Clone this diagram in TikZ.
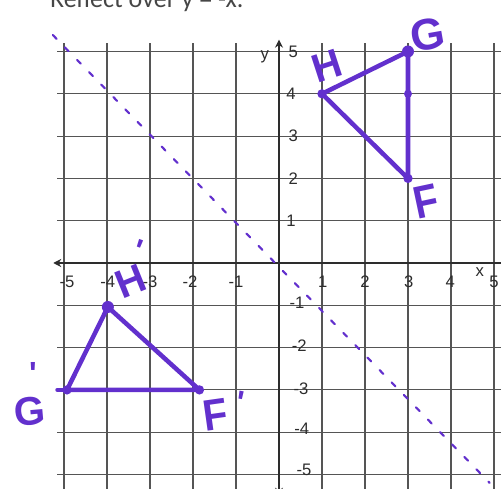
\documentclass[tikz,border=0pt]{standalone}
\usepackage{fontspec}
\setmainfont{Liberation Sans}
\newfontfamily\titlefont{Carlito}
\usetikzlibrary{arrows.meta}
\definecolor{pen}{RGB}{98,48,205}
\definecolor{gridc}{RGB}{85,85,85}
\definecolor{inkc}{RGB}{45,45,45}
\definecolor{titlec}{RGB}{70,70,70}
\begin{document}
\begin{tikzpicture}[x=32.25pt,y=31.725pt,
  gridline/.style={draw=gridc,line width=0.8pt},
  axisline/.style={draw=inkc,line width=1.6pt},
  tri/.style={draw=pen,line width=3.4pt,line join=round,line cap=round},
  mirror/.style={draw=pen,line width=1.6pt,line cap=round,dash pattern=on 4pt off 9pt},
  vdot/.style={circle,fill=pen,inner sep=0pt,minimum size=7pt},
  tick/.style={text=inkc,font=\fontsize{12.5}{13}\selectfont,inner sep=0pt},
  hand/.style={text=pen,font=\bfseries\fontsize{30}{30}\selectfont,inner sep=0pt},
  primemark/.style={text=pen,font=\bfseries\fontsize{24}{24}\selectfont,inner sep=0pt}]
\useasboundingbox (-6.4884,-5.3428) rectangle (5.1628,6.2175);
% title (cut at top)
\node[anchor=base west,inner sep=0pt,text=titlec,font=\titlefont\fontsize{19.5}{20}\selectfont] (title) at (-5.33,6.03) {Reflect over y = -x.};
% grid
\foreach \i in {-5,...,-1,1,2,...,5} \draw[gridline] (\i,-5.55) -- (\i,5.2);
\foreach \j in {-5,...,-1,1,2,...,5} \draw[gridline] (-5.16,\j) -- (5.4,\j);
% axes
\draw[axisline,{Stealth[length=6pt,width=6pt]}-{Stealth[length=6pt,width=6pt]}] (0,-5.5) -- (0,5.28);
\draw[axisline,{Stealth[length=6pt,width=6pt]}-] (-5.25,0) -- (5.4,0);
% tick labels
\node[tick] (xm5) at (-4.93,-0.45) {-5};
\node[tick] (xm4) at (-3.98,-0.45) {-4};
\node[tick] (xm3) at (-3.0,-0.45) {-3};
\node[tick] (xm2) at (-2.07,-0.45) {-2};
\node[tick] (xm1) at (-1.0,-0.45) {-1};
\node[tick] (x1) at (1.02,-0.45) {1};
\node[tick] (x2) at (2.0,-0.45) {2};
\node[tick] (x3) at (3.02,-0.45) {3};
\node[tick] (x4) at (3.98,-0.45) {4};
\node[tick] (xl) at (4.67,-0.22) {x};
\node[tick] (x5) at (5.0,-0.45) {5};
\node[tick] (yl) at (-0.33,4.87) {y};
\node[tick] (y5) at (0.33,5.0) {5};
\node[tick] (y4) at (0.28,4.0) {4};
\node[tick] (y3) at (0.33,3.0) {3};
\node[tick] (y2) at (0.33,2.0) {2};
\node[tick] (y1) at (0.28,1.0) {1};
\node[tick] (ym1) at (0.42,-0.93) {-1};
\node[tick] (ym2) at (0.47,-1.95) {-2};
\node[tick] (ym3) at (0.51,-2.97) {-3};
\node[tick] (ym4) at (0.53,-3.92) {-4};
\node[tick] (ym5) at (0.58,-4.9) {-5};
% line of reflection y = -x
\coordinate (m1) at (-5.26,5.39);
\coordinate (m2) at (4.9,-5.2);
\draw[mirror] (m1) -- (m2);
% original triangle
\coordinate (G) at (3,5);
\coordinate (H) at (1,4);
\coordinate (F) at (3,2);
\coordinate (K) at (3,4);
\draw[tri] (G) -- (H) -- (F) -- cycle;
\node[vdot,minimum size=9pt] (Gd) at (G) {};
\node[vdot] (Hd) at (H) {};
\node[vdot] (Fd) at (F) {};
\node[vdot,minimum size=6pt] (Kd) at (K) {};
% image triangle
\coordinate (G2) at (-4.93,-3);
\coordinate (H2) at (-3.98,-1.04);
\coordinate (F2) at (-1.85,-3);
\draw[tri] (G2) -- (H2) -- (F2) -- cycle;
\draw[tri] (-5.15,-3) -- (G2);
\node[vdot] (G2d) at (G2) {};
\node[vdot,minimum size=9pt] (H2d) at (H2) {};
\node[vdot] (F2d) at (F2) {};
% handwritten labels
\node[hand,font=\bfseries\fontsize{33}{33}\selectfont,rotate=10] (Gl) at (3.47,5.39) {G};
\node[hand,rotate=18] (Hl) at (1.12,4.66) {H};
\node[hand,rotate=12,yscale=1.15] (Fl) at (3.42,1.45) {F};
\node[hand,rotate=22] (H2l) at (-3.44,-0.43) {H};
\node[primemark,rotate=-20] (H2p) at (-3.28,0.3) {\textquotesingle};
\node[hand,rotate=5] (G2l) at (-5.79,-3.5) {G};
\node[primemark] (G2p) at (-5.72,-2.62) {\textquotesingle};
\node[hand,rotate=8,yscale=1.1] (F2l) at (-1.47,-3.6) {F};
\node[primemark,rotate=-10] (F2p) at (-0.9,-3.3) {\textquotesingle};
\end{tikzpicture}
\end{document}
